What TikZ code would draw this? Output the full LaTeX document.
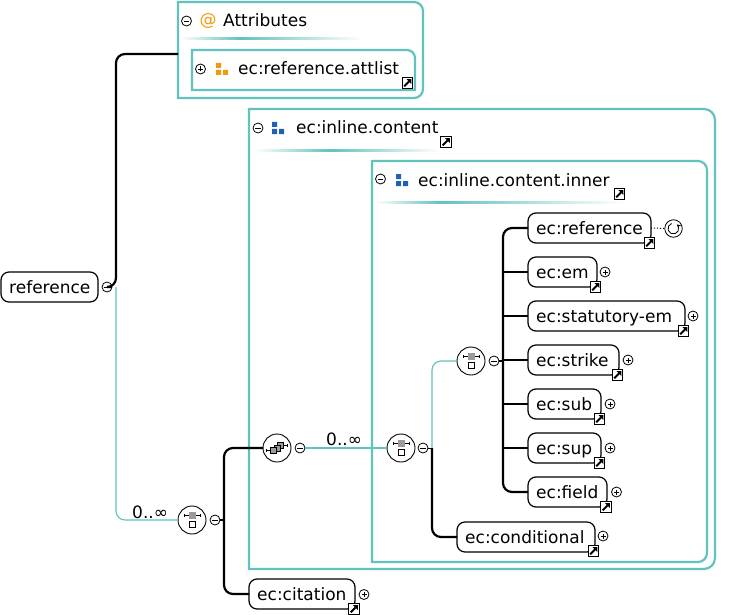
\documentclass[tikz,border=0pt]{standalone}
\usepackage{fontspec}
\setmainfont{DejaVu Sans}
\usetikzlibrary{arrows.meta}
\definecolor{tealb}{HTML}{62C2BC}
\definecolor{orng}{HTML}{F29A0C}
\definecolor{blu}{HTML}{1F62B4}
\definecolor{gry}{HTML}{9A9A9A}
\tikzset{
  x=1pt,y=-1pt,
  txt/.style={font=\fontsize{17}{19}\selectfont,text=black,inner sep=0pt,anchor=base west},
  el/.style={draw=black,line width=1.2pt,rounded corners=8pt,minimum height=30pt,inner sep=0pt,outer sep=0pt,fill=white},
  frame/.style={draw=tealb,line width=2.2pt},
  anchorbox/.style={inner sep=0pt,outer sep=0pt},
  thickl/.style={draw=black,line width=2.2pt,rounded corners=9pt},
  thinl/.style={draw=tealb,line width=1.1pt,rounded corners=9pt},
  small/.style={circle,draw=black,line width=.8pt,minimum size=10pt,inner sep=0pt,outer sep=0pt,fill=white},
  minusc/.style={small,path picture={\draw[line width=.9pt] ([xshift=-2.6pt]path picture bounding box.center)--([xshift=2.6pt]path picture bounding box.center);}},
  plusc/.style={small,path picture={\fill (path picture bounding box.center) circle (.9pt);\draw[line width=.7pt] ([xshift=-2.5pt]path picture bounding box.center)--([xshift=2.5pt]path picture bounding box.center) ([yshift=-2.5pt]path picture bounding box.center)--([yshift=2.5pt]path picture bounding box.center);}},
  lnk/.style={draw=black,line width=1.1pt,fill=white,minimum size=10.5pt,inner sep=0pt,outer sep=0pt,
    path picture={\begin{scope}[shift={(path picture bounding box.center)}]
      \fill[black] (3.9,-3.9)--(-1,-3.9)--(3.9,1)--cycle;
      \draw[line width=1.8pt] (-3.3,3.3)--(1.5,-1.5);
    \end{scope}}},
  ring/.style={circle,draw=black,line width=.9pt,minimum size=28pt,inner sep=0pt,outer sep=0pt,fill=white},
  seqicon/.pic={
    \draw[line width=.9pt] (-8,-4.7)--(8,-4.7) (-8,-6.2)--(-8,-3.2) (8,-6.2)--(8,-3.2);
    \fill[gry,draw=gry] (-3,-7.7) rectangle (3,-1.7);
    \draw[fill=white,line width=.8pt] (-3,1.4) rectangle (3,7.4);
  },
  choiceicon/.pic={
    \draw[line width=.9pt] (-10.4,2.8)--(-6,2.8) (-10.4,1.3)--(-10.4,4.3) (6,-3)--(10.4,-3) (10.4,-4.5)--(10.4,-1.5);
    \draw[fill=gry,line width=.7pt] (0.5,-6) rectangle (6.5,0);
    \draw[fill=gry,line width=.7pt] (-3,-3) rectangle (3,3);
    \draw[fill=gry,line width=.7pt] (-6.4,-.2) rectangle (-.4,5.8);
  },
  tri/.pic={
    \fill[pic actions] (0,0) rectangle (5,5) (0,7) rectangle (5,12) (7,7) rectangle (12,12);
  }
}
\newcommand{\elem}[5]{\node[el,minimum width={#3-#2}] (#1) at ({(#2+#3)/2},#4) {};
  \node[txt] (#1t) at (#2+8,#4+6) {#5};}
\newcommand{\lnkat}[3]{\node[lnk] (#1) at (#2,#3) {};}
\newcommand{\sep}[4]{\shade[left color=white,right color=tealb] (#1,#2) rectangle (#3,#2+1.6);
  \shade[left color=tealb,right color=white] (#3,#2) rectangle (#4,#2+1.6);}
\begin{document}
\begin{tikzpicture}
\useasboundingbox (0,0) rectangle (733,615);

% Attributes panel
\node[anchorbox,minimum width=245pt,minimum height=96pt] (attrpanel) at (300.5,50) {};
\draw[frame] (178,2) [rounded corners=9pt] -- (423,2) -- (423,98) [sharp corners] -- (178,98) -- cycle;
\node[minusc] (attrminus) at (186.5,21) {};
\node[font=\fontsize{17}{19}\selectfont,text=orng,inner sep=0pt] (attrat) at (208,21) {@};
\node[txt] (attrtitle) at (223,27) {Attributes};
\sep{180}{37.5}{240}{363}
\node[anchorbox,minimum width=223pt,minimum height=40pt] (listpanel) at (303.5,70) {};
\draw[frame] (192,50) [rounded corners=8pt] -- (415,50) [sharp corners] -- (415,90) -- (192,90) -- cycle;
\node[plusc] (listplus) at (200.5,69) {};
\pic[orng] at (216,63) {tri};
\node[txt] (listtitle) at (238,75) {ec:reference.attlist};
\lnkat{listlnk}{407.5}{83}

% inline.content panels
\node[anchorbox,minimum width=466pt,minimum height=460pt] (outerpanel) at (482,339) {};
\draw[frame] (249,109) [rounded corners=11pt] -- (715,109) -- (715,569) [sharp corners] -- (249,569) -- cycle;
\node[minusc] (outerminus) at (258,128) {};
\pic[blu] at (272,122) {tri};
\node[txt] (outertitle) at (296,134) {ec:inline.content};
\lnkat{outerlnk}{446}{142}
\sep{255}{149.5}{330}{440}

\node[anchorbox,minimum width=335pt,minimum height=401pt] (innerpanel) at (539.5,361.5) {};
\draw[frame] (372,161) [rounded corners=9pt] -- (707,161) -- (707,562) [sharp corners] -- (372,562) -- cycle;
\node[minusc] (innerminus) at (380.5,179) {};
\pic[blu] at (396,174) {tri};
\node[txt] (innertitle) at (418,186) {ec:inline.content.inner};
\lnkat{innerlnk}{619.5}{194}
\sep{375}{201.5}{440}{625}

% structure nodes
\node[el,minimum width=97pt] (root) at (49.5,287) {};
\node[txt] (roott) at (9,293) {reference};
\node[minusc] (rootminus) at (107,287) {};
\node[ring] (seqa) at (192,520) {};
\node[minusc] (seqaminus) at (215,520) {};
\node[ring] (choice) at (277,448) {};
\node[minusc] (choiceminus) at (300,448) {};
\node[ring] (seqb) at (401,448) {};
\node[minusc] (seqbminus) at (423,448) {};
\node[ring] (seqc) at (471,361) {};
\node[minusc] (seqcminus) at (494,361) {};

\coordinate (ja) at (116,287);
\coordinate (jb) at (224,520);
\coordinate (jc) at (432,448);
\coordinate (jd) at (503,361);

\elem{ecreference}{528}{651}{228}{ec:reference}
\elem{ecem}{528}{597}{272}{ec:em}
\elem{ecstat}{528}{685}{316}{ec:statutory-em}
\elem{ecstrike}{528}{619}{360}{ec:strike}
\elem{ecsub}{528}{601}{404}{ec:sub}
\elem{ecsup}{528}{601}{448}{ec:sup}
\elem{ecfield}{528}{607}{492}{ec:field}
\elem{eccond}{457}{595}{537}{ec:conditional}
\elem{eccit}{249}{355}{594}{ec:citation}

% connectors
\draw[thinl] (ja)|-(seqa.west);
\draw[thickl] (rootminus.east)--(ja)|-(attrpanel.west |- 0,54);
\draw[line width=2.2pt] (seqaminus.east)--(jb);
\draw[thickl] (jb)|-(choice.west);
\draw[thickl] (jb)|-(eccit.west);
\draw[thinl] (choiceminus.east)--(seqb.west);
\draw[thinl] (jc)|-(seqc.west);
\draw[line width=1pt,draw=black] (seqbminus.east)--(jc);
\draw[thickl] (jc)|-(eccond.west);
\draw[line width=2.2pt] (seqcminus.east)--(jd);
\draw[thickl] (jd)|-(ecreference.west);
\draw[thickl] (jd)|-(ecfield.west);
\foreach \t in {ecem,ecstat,ecstrike,ecsub,ecsup}{\draw[line width=2.2pt] (jd |- \t.west)--(\t.west);}

\pic at (seqa) {seqicon};
\pic at (seqb) {seqicon};
\pic at (seqc) {seqicon};
\pic at (choice) {choiceicon};

\node[txt] (occa) at (132,518) {0..∞};
\node[txt] (occb) at (326,445) {0..∞};

% expanders and links
\lnkat{l1}{649.5}{243}
\lnkat{l2}{595.5}{287}
\lnkat{l3}{683.5}{331}
\lnkat{l4}{617.5}{375}
\lnkat{l5}{599.5}{419}
\lnkat{l6}{599.5}{463}
\lnkat{l7}{606}{507}
\lnkat{l8}{593.5}{551}
\lnkat{l9}{354}{609}
\node[plusc] (p2) at (605,272) {};
\node[plusc] (p3) at (693,316) {};
\node[plusc] (p4) at (628,360) {};
\node[plusc] (p5) at (610,404) {};
\node[plusc] (p6) at (610,448) {};
\node[plusc] (p7) at (616.5,492) {};
\node[plusc] (p8) at (603,536) {};
\node[plusc] (p9) at (364,594.5) {};

% recursion
\node[circle,draw=black,line width=.8pt,minimum size=17.5pt,inner sep=0pt,outer sep=0pt] (rec) at (673.5,228.5) {};
\draw[line width=.8pt,-{Stealth[length=4pt,width=4pt]}] (rec.center)+(-2,-5) arc[start angle=250,end angle=-50,radius=5.4];
\draw[line width=1pt,dotted] (ecreference.east)--(rec.west);
\end{tikzpicture}
\end{document}
